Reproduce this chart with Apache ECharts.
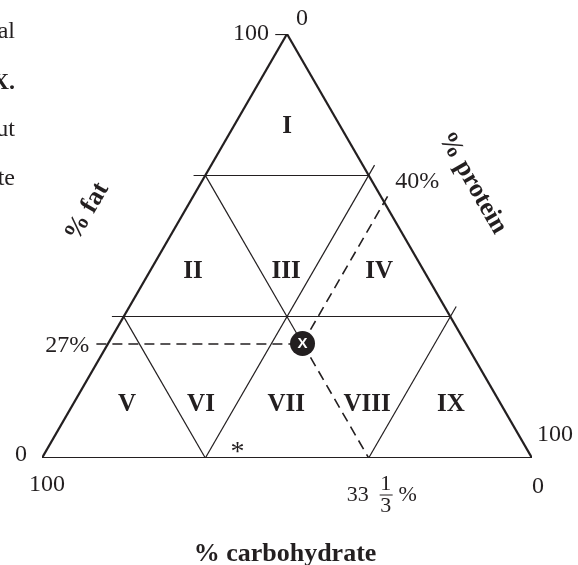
<!DOCTYPE html>
<html>
<head>
<meta charset="utf-8">
<script src="https://cdn.jsdelivr.net/npm/echarts@6/dist/echarts.min.js"></script>
<style>
  html, body { margin: 0; padding: 0; background: #fff; }
  #chart { width: 578px; height: 565px; }
</style>
</head>
<body>
<div id="chart"></div>
<script>
// ternary data: every position is given as [fat %, protein %], carb = 100 - fat - protein
const gridFat = [100 / 3, 200 / 3];
const gridProtein = [100 / 3, 200 / 3];
const gridCarb = [100 / 3, 200 / 3];

const pointX = { fat: 27, carb: 100 / 3 };
pointX.protein = 100 - pointX.fat - pointX.carb;

const regionNames = ['I', 'II', 'III', 'IV', 'V', 'VI', 'VII', 'VIII', 'IX'];
const regionFat = [78.2, 44, 44, 44, 12.5, 12.5, 12.5, 12.5, 12.5];
const regionProtein = [10.9, 8.8, 27.8, 46.8, 11.1, 26.2, 43.6, 60.1, 77.2];

const fatAxisLabels = ['0', '100'];      // at fat 0, 100
const proteinAxisLabels = ['0', '100'];  // at protein 0, 100
const carbAxisLabels = ['100', '0'];     // at carb 100, 0
const axisTitles = ['% fat', '% protein', '% carbohydrate'];
const pageText = ['al', 'X.', 'ut', 'te'];

const H = Math.sqrt(3) / 2;
const tern = (fat, protein) => [0.5 * fat + protein, fat * H];
const add = (a, b) => [a[0] + b[0], a[1] + b[1]];

const T = 2.4; // tick length in axis units
const fatTick = [-T, 0];
const protTick = [T * 0.5, T * H];
const carbTick = [T * 0.5, -T * H];

const INK = '#231f20';
const solid = { color: INK, width: 1.2, type: 'solid', opacity: 1 };
const thick = { color: INK, width: 2.2, type: 'solid', opacity: 1 };
const dashed = { color: INK, width: 1.6, type: [10, 6], opacity: 1 };

const segs = [];
const seg = (a, b, style) => segs.push({ coords: [a, b], lineStyle: style });

// outline
const A = tern(100, 0), BL = tern(0, 0), BR = tern(0, 100);
seg(A, BL, thick); seg(BL, BR, thick); seg(BR, A, thick);

// corner ticks
seg(BL, add(BL, fatTick), solid);
seg(A, add(A, fatTick), solid);
seg(A, add(A, protTick), solid);
seg(BR, add(BR, protTick), solid);
seg(BL, add(BL, carbTick), solid);
seg(BR, add(BR, carbTick), solid);

const XP = tern(pointX.fat, pointX.protein);

gridFat.forEach(f => seg(add(tern(f, 0), fatTick), tern(f, 100 - f), solid));
gridProtein.forEach(p => seg(tern(0, p), add(tern(100 - p, p), protTick), solid));
gridCarb.forEach(c => {
  const edge = tern(100 - c, 0), base = tern(0, 100 - c);
  if (Math.abs(c - pointX.carb) < 1e-6) {
    seg(edge, XP, solid);
    seg(XP, base, dashed);
  } else {
    seg(edge, base, solid);
  }
  seg(base, add(base, carbTick), solid);
});

// dashed guides through X
seg(add(tern(pointX.fat, 0), fatTick), XP, dashed);
seg(XP, add(tern(100 - pointX.protein, pointX.protein), protTick), dashed);

const serif = '"Liberation Serif", "Times New Roman", serif';
const txt = (pos, text, size, bold, offset, rotate) => ({
  value: pos,
  label: {
    show: true, position: 'inside', formatter: text, offset: offset || [0, 0], rotate: rotate || 0,
    fontFamily: serif, fontSize: size, fontWeight: bold ? 'bold' : 'normal', color: INK
  }
});

const labels = [];
regionNames.forEach((n, i) => labels.push(txt(tern(regionFat[i], regionProtein[i]), n, 25, true)));
labels.push(txt(tern(100, 0), fatAxisLabels[1], 24, false, [-36, 0]));
labels.push(txt(tern(0, 0), fatAxisLabels[0], 24, false, [-21, -3]));
labels.push(txt(tern(100, 0), proteinAxisLabels[0], 24, false, [15, -15]));
labels.push(txt(tern(0, 100), proteinAxisLabels[1], 24, false, [23, -23]));
labels.push(txt(tern(0, 0), carbAxisLabels[0], 24, false, [5, 27]));
labels.push(txt(tern(0, 100), carbAxisLabels[1], 24, false, [6, 29]));
labels.push(txt(tern(pointX.fat, 0), Math.round(pointX.fat) + '%', 24, false, [-41, 2]));
labels.push(txt(tern(100 - pointX.protein, pointX.protein), Math.round(pointX.protein) + '%', 24, false, [33, -20]));
const carbBase = tern(0, 100 - pointX.carb);
labels.push(txt(carbBase, '33', 22, false, [-11, 37]));
labels.push(txt(carbBase, '1', 22, false, [17, 26]));
labels.push(txt(carbBase, '3', 22, false, [17, 48]));
labels.push(txt(carbBase, '%', 22, false, [39, 37]));
// offsets of rotated labels are given in the label's own rotated frame
labels.push(txt(tern(50, 0), axisTitles[0], 26, true, [-9, -84], 60));
labels.push(txt(tern(50, 50), axisTitles[1], 26, true, [-23, -86], -60));
labels.push(txt(tern(0, 50), axisTitles[2], 26, true, [-2, 96]));
labels.push(txt(tern(1.2, 39.3), '*', 28, false));

const chart = echarts.init(document.getElementById('chart'));
chart.setOption({
  animation: false,
  grid: { left: 42, top: 34, width: 490, height: 424 },
  xAxis: { type: 'value', min: 0, max: 100, show: false },
  yAxis: { type: 'value', min: 0, max: 100 * H, show: false },
  series: [
    { type: 'lines', coordinateSystem: 'cartesian2d', polyline: false, silent: true, data: segs, z: 2 },
    { type: 'scatter', symbolSize: 0, silent: true, data: labels, z: 3, itemStyle: { opacity: 1 } },
    {
      type: 'scatter', silent: true, z: 5,
      data: [XP], symbol: 'circle', symbolSize: 25,
      itemStyle: { color: INK, opacity: 1 },
      label: { show: true, position: 'inside', formatter: 'X', color: '#fff', fontFamily: 'Liberation Sans, Arial, sans-serif', fontWeight: 'bold', fontSize: 15 }
    }
  ]
});

// fraction bar of 33 1/3 and the cut-off page text on the left
const bp = chart.convertToPixel({ gridIndex: 0 }, carbBase);
chart.setOption({
  graphic: [
    { type: 'line', shape: { x1: bp[0] + 11, y1: bp[1] + 37, x2: bp[0] + 24, y2: bp[1] + 37 }, style: { stroke: INK, lineWidth: 1 } },
    ...pageText.map((t, i) => ({
      type: 'text', x: 15, y: [32, 83, 130, 179][i],
      style: { text: t, align: 'right', verticalAlign: 'middle', fill: INK,
               font: (i === 1 ? 'bold ' : '') + '24px ' + serif }
    }))
  ]
});
</script>
</body>
</html>
